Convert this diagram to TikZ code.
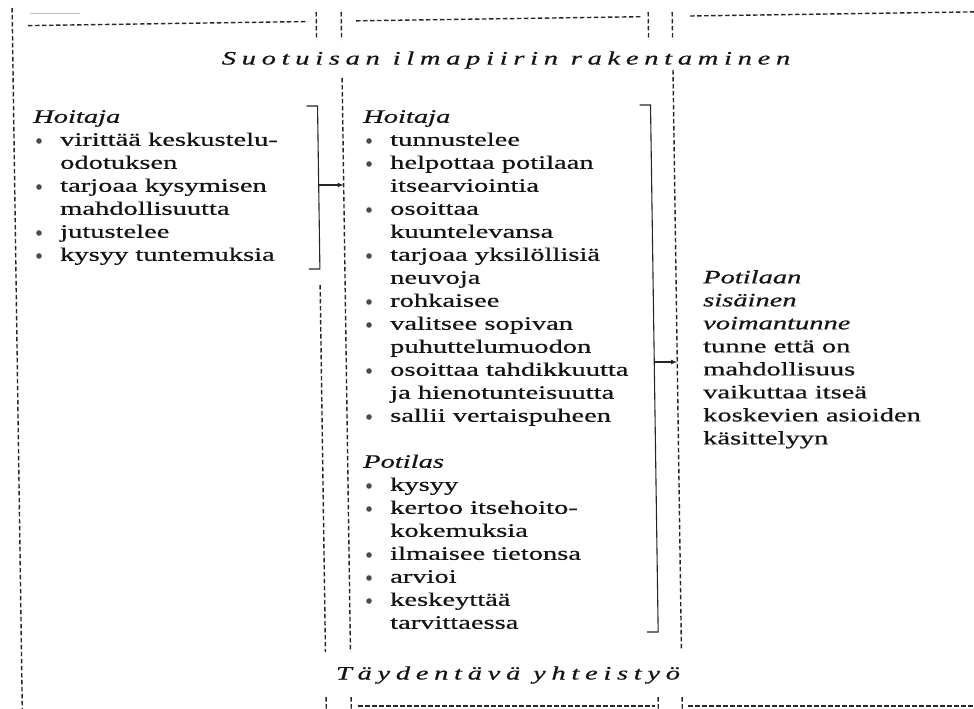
\documentclass[tikz,border=0pt]{standalone}
\usepackage{fontspec}
\setmainfont[FakeStretch=1.5,FakeBold=0.7]{Liberation Serif}
\usetikzlibrary{calc}

\tikzset{
  rule/.style={line width=1.4pt,dash pattern=on 4.5pt off 2.5pt,black!85},
  brak/.style={line width=1.1pt,black!85},
  blk/.style={anchor=north west,inner sep=0pt,align=left,text=black!92,font=\fontsize{19}{23}\selectfont},
  head/.style={inner sep=0pt,text=black!92,font=\fontsize{19}{23}\selectfont\itshape\addfontfeature{LetterSpace=30}}
}
\newcommand{\bdot}{\makebox[27pt][l]{\hspace{3pt}\tikz[baseline=0pt]\fill[black!70] (2.8pt,4.8pt) circle (2.8pt);}}
\newcommand{\bskip}{\hspace*{27pt}}

\begin{document}
\begin{tikzpicture}[x=1pt,y=-1pt]
\pgfmathsetmacro{\tilt}{0.0145}
\useasboundingbox (0,0) rectangle (974,709);
% dashed frame
\draw[gray!50,line width=0.6pt] (30,13) -- (80,13);
\foreach \xa/\ya/\yb in {12/8/712, 316/12/40, 341/12/40, 648/12/40, 672/12/40, 341/78/652, 672/70/650, 316/285/652, 316/697/712, 341/697/712, 648/697/712, 672/697/712}
  \draw[rule] ({\xa+\tilt*\ya},\ya) -- ({\xa+\tilt*\yb},\yb);
\foreach \xa/\xb in {28/308, 356/641, 690/974}
  \draw[rule] (\xa,{26-\tilt*\xa}) -- (\xb,{26-\tilt*\xb});
\foreach \xa/\xb in {358/655, 688/974}
  \draw[rule] (\xa,706) -- (\xb,706);

\node[head] (top) at (506,60) {Suotuisan ilmapiirin rakentaminen};
\node[head] (bot) at (508,675) {Täydentävä yhteistyö};

\node[blk] (lh) at (33,110) {\textit{Hoitaja}\\
\bdot virittää keskustelu-\\
\bskip odotuksen\\
\bdot tarjoaa kysymisen\\
\bskip mahdollisuutta\\
\bdot jutustelee\\
\bdot kysyy tuntemuksia};

\node[blk] (mh) at (363,110) {\textit{Hoitaja}\\
\bdot tunnustelee\\
\bdot helpottaa potilaan\\
\bskip itsearviointia\\
\bdot osoittaa\\
\bskip kuuntelevansa\\
\bdot tarjoaa yksilöllisiä\\
\bskip neuvoja\\
\bdot rohkaisee\\
\bdot valitsee sopivan\\
\bskip puhuttelumuodon\\
\bdot osoittaa tahdikkuutta\\
\bskip ja hienotunteisuutta\\
\bdot sallii vertaispuheen\\[23pt]
\textit{Potilas}\\
\bdot kysyy\\
\bdot kertoo itsehoito-\\
\bskip kokemuksia\\
\bdot ilmaisee tietonsa\\
\bdot arvioi\\
\bdot keskeyttää\\
\bskip tarvittaessa};

\node[blk] (rt) at (703,270) {\textit{Potilaan}\\
\textit{sisäinen}\\
\textit{voimantunne}\\
tunne että on\\
mahdollisuus\\
vaikuttaa itseä\\
koskevien asioiden\\
käsittelyyn};

% brackets and arrows
\coordinate (lbt) at ({316+\tilt*106},106);
\coordinate (lbb) at ({316+\tilt*269},269);
\coordinate (lbm) at ({316+\tilt*185},185);
\coordinate (la) at ({341+\tilt*185},185);
\draw[brak] ($(lbt)+(-11,0)$) -- (lbt) -- (lbb) -- ++(-11,0);
\draw[brak,-latex] (lbm) -- (la);
\coordinate (mbt) at ({649+\tilt*105},105);
\coordinate (mbb) at ({649+\tilt*632},632);
\coordinate (mbm) at ({649+\tilt*362},362);
\coordinate (ma) at ({672+\tilt*362},362);
\draw[brak] ($(mbt)+(-11,0)$) -- (mbt) -- (mbb) -- ++(-11,0);
\draw[brak,-latex] (mbm) -- (ma);
\end{tikzpicture}
\end{document}
